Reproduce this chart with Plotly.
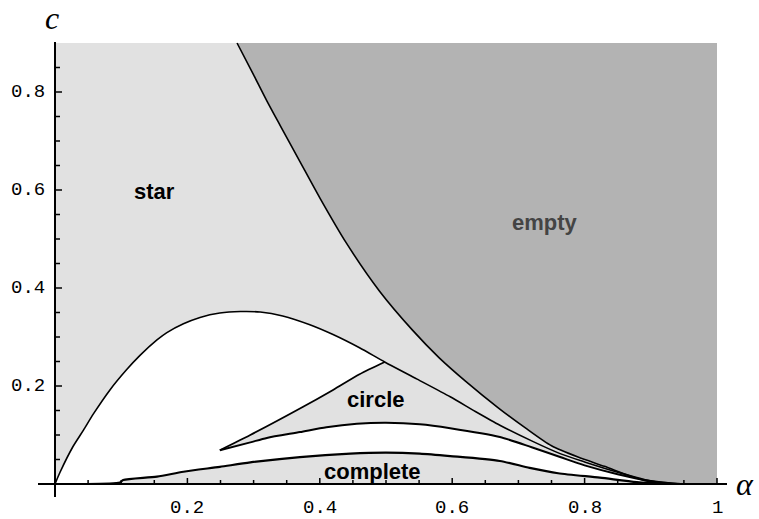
import plotly.graph_objects as go

# ---- boundary curves of the phase diagram (alpha, c) ----
# star / empty boundary
alpha_empty = [0.275, 0.30, 0.32, 0.34, 0.37, 0.40, 0.44, 0.49, 0.54, 0.58,
               0.62, 0.67, 0.71, 0.75, 0.79, 0.83, 0.87, 0.90, 0.915]
c_empty = [0.90, 0.835, 0.782, 0.732, 0.658, 0.584, 0.492, 0.394, 0.314, 0.258,
           0.21, 0.155, 0.115, 0.078, 0.055, 0.036, 0.016, 0.004, 0.0]

# upper edge of the region below the star
alpha_hump = [0.0, 0.0076, 0.027, 0.043, 0.058, 0.083, 0.108, 0.128, 0.154, 0.169,
              0.194, 0.219, 0.249, 0.28, 0.31, 0.344, 0.385, 0.42, 0.46, 0.498,
              0.547, 0.597, 0.635, 0.672, 0.72, 0.763, 0.80, 0.85, 0.90, 0.95]
c_hump = [0.0, 0.024, 0.076, 0.11, 0.143, 0.192, 0.233, 0.262, 0.294, 0.309,
          0.327, 0.340, 0.349, 0.352, 0.351, 0.343, 0.325, 0.305, 0.278, 0.249,
          0.214, 0.178, 0.148, 0.12, 0.088, 0.062, 0.045, 0.024, 0.006, 0.0]

# left edge of the circle region (tip to apex)
alpha_circle_edge = [0.249, 0.295, 0.37, 0.42, 0.46, 0.498]
c_circle_edge = [0.069, 0.100, 0.154, 0.192, 0.224, 0.249]

# lower edge of the circle region
alpha_circle_low = [0.249, 0.295, 0.32, 0.37, 0.41, 0.456, 0.50, 0.551, 0.597,
                    0.672, 0.72, 0.763, 0.80, 0.85, 0.90, 0.94]
c_circle_low = [0.069, 0.085, 0.094, 0.106, 0.116, 0.123, 0.125, 0.122, 0.114,
                0.096, 0.075, 0.055, 0.038, 0.02, 0.006, 0.0]

# upper edge of the complete region
alpha_complete = [0.048, 0.098, 0.103, 0.154, 0.194, 0.249, 0.295, 0.37, 0.446,
                  0.50, 0.551, 0.597, 0.672, 0.717, 0.76, 0.823, 0.879, 0.93]
c_complete = [0.0, 0.003, 0.008, 0.015, 0.025, 0.035, 0.044, 0.055, 0.062,
              0.064, 0.062, 0.057, 0.047, 0.033, 0.022, 0.013, 0.004, 0.0]

# region labels
region_names = ["star", "empty", "circle", "complete"]
region_alpha = [0.151, 0.740, 0.485, 0.479]
region_c = [0.596, 0.533, 0.173, 0.026]

# axis ticks
x_major = [0.2, 0.4, 0.6, 0.8, 1.0]
x_labels = ["0.2", "0.4", "0.6", "0.8", "1"]
x_minor = [0.05, 0.1, 0.15, 0.25, 0.3, 0.35, 0.45, 0.5, 0.55, 0.65, 0.7, 0.75,
           0.85, 0.9, 0.95]
y_major = [0.2, 0.4, 0.6, 0.8]
y_labels = ["0.2", "0.4", "0.6", "0.8"]
y_minor = [0.05, 0.1, 0.15, 0.25, 0.3, 0.35, 0.45, 0.5, 0.55, 0.65, 0.7, 0.75, 0.85]

C_TOP = 0.9
LIGHT = "#e1e1e1"
DARK = "#b3b3b3"

# pixel scale of the canvas (used to size tick marks)
W, H = 759, 519
X0, X1 = -55 / 662, 704 / 662
Y0, Y1 = -35 / 490, 484 / 490
px_x = (X1 - X0) / W
px_y = (Y1 - Y0) / H

fig = go.Figure()


def poly(xs, ys, color):
    fig.add_trace(go.Scatter(x=xs, y=ys, fill="toself", fillcolor=color,
                             mode="lines", line=dict(width=0),
                             hoverinfo="skip", showlegend=False))


def curve(xs, ys, width):
    fig.add_trace(go.Scatter(x=xs, y=ys, mode="lines",
                             line=dict(color="black", width=width,
                                       shape="spline", smoothing=0.7),
                             hoverinfo="skip", showlegend=False))


# star background
poly([0, 1, 1, 0, 0], [0, 0, C_TOP, C_TOP, 0], LIGHT)
# empty region
poly(alpha_empty + [1, 1, alpha_empty[0]], c_empty + [0, C_TOP, c_empty[0]], DARK)
# white band between the star boundary and the complete region
poly(alpha_hump + alpha_complete[::-1] + [0],
     c_hump + c_complete[::-1] + [0], "white")
# circle region
i_apex = alpha_hump.index(0.498)
poly(alpha_circle_edge + alpha_hump[i_apex + 1:] + alpha_circle_low[::-1],
     c_circle_edge + c_hump[i_apex + 1:] + c_circle_low[::-1], LIGHT)

# boundary lines
curve(alpha_empty, c_empty, 1.6)
curve(alpha_hump, c_hump, 1.6)
curve(alpha_circle_edge, c_circle_edge, 1.8)
curve(alpha_circle_low, c_circle_low, 2.0)
curve(alpha_complete, c_complete, 2.2)

# axes through the origin
fig.add_trace(go.Scatter(x=[-17 * px_x, 1 + 10 * px_x, None, 0, 0],
                         y=[0, 0, None, -13 * px_y, C_TOP + 1 * px_y],
                         mode="lines", line=dict(color="black", width=2),
                         hoverinfo="skip", showlegend=False))

# tick marks
tx, ty = [], []
for v in x_major:
    tx += [v, v, None]
    ty += [0, 6 * px_y, None]
for v in x_minor:
    tx += [v, v, None]
    ty += [0, 4 * px_y, None]
for v in y_major:
    tx += [0, 7 * px_x, None]
    ty += [v, v, None]
for v in y_minor:
    tx += [0, 5 * px_x, None]
    ty += [v, v, None]
fig.add_trace(go.Scatter(x=tx, y=ty, mode="lines",
                         line=dict(color="black", width=1.5),
                         hoverinfo="skip", showlegend=False))

tick_font = dict(family="Liberation Mono", size=19, color="black")
for v, s in zip(x_major, x_labels):
    fig.add_annotation(x=v, y=-24 * px_y, text=s, showarrow=False,
                       xanchor="center", yanchor="middle", font=tick_font)
for v, s in zip(y_major, y_labels):
    fig.add_annotation(x=-8 * px_x, y=v, text=s, showarrow=False,
                       xanchor="right", yanchor="middle", font=tick_font)

# axis titles
title_font = dict(family="Liberation Serif", size=32, color="black")
fig.add_annotation(x=-0.004, y=C_TOP + 25 * px_y, text="<i>c</i>", showarrow=False,
                   xanchor="center", yanchor="middle", font=title_font)
fig.add_annotation(x=1 + 28 * px_x, y=0, text="<i>α</i>", showarrow=False,
                   xanchor="center", yanchor="middle", font=title_font)

# region labels
for name, a, c in zip(region_names, region_alpha, region_c):
    fig.add_annotation(x=a, y=c, text="<b>%s</b>" % name, showarrow=False,
                       xanchor="center", yanchor="middle",
                       font=dict(family="Liberation Sans", size=22,
                                 color="#444444" if name == "empty" else "black"))

fig.update_layout(
    width=W, height=H,
    margin=dict(l=0, r=0, t=0, b=0),
    paper_bgcolor="white", plot_bgcolor="white",
    xaxis=dict(range=[X0, X1], visible=False, fixedrange=True),
    yaxis=dict(range=[Y0, Y1], visible=False, fixedrange=True),
    showlegend=False,
)

fig.write_html("out.html")
